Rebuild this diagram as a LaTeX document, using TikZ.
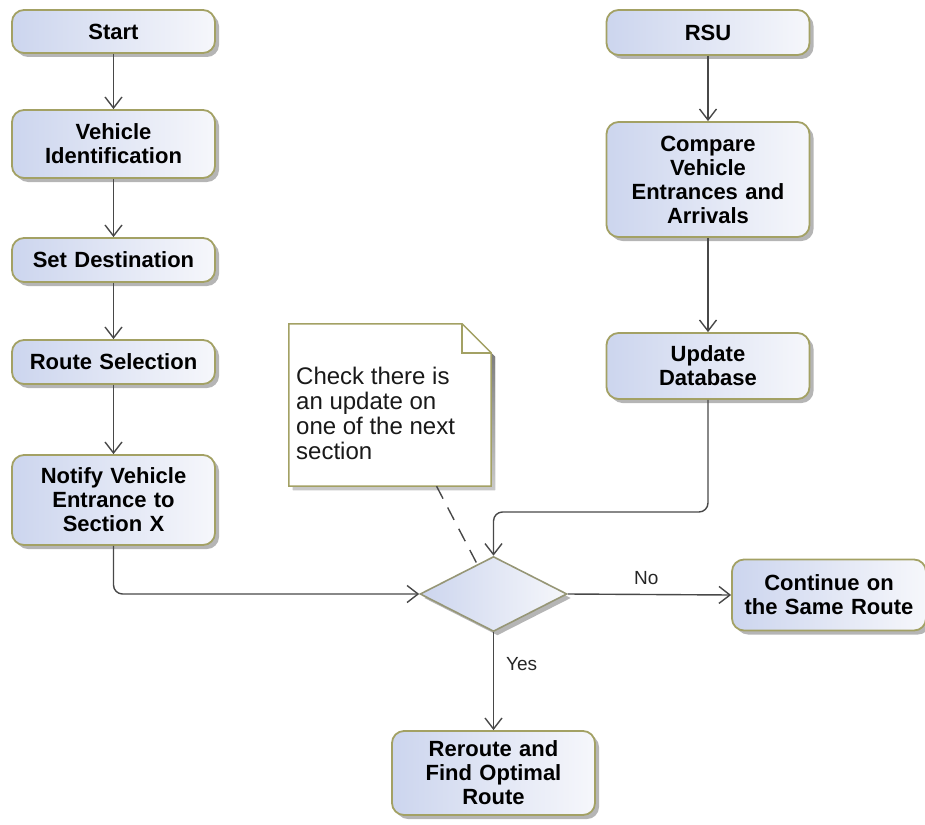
\documentclass[tikz,border=0pt]{standalone}
\usepackage{fontspec}
\setmainfont{Liberation Sans}
\usetikzlibrary{arrows.meta,shapes.geometric,shadows,calc}

\definecolor{boxedge}{RGB}{163,161,100}
\definecolor{boxblue}{RGB}{204,213,238}
\definecolor{boxwhite}{RGB}{246,247,251}
\definecolor{flowline}{RGB}{72,72,72}
\definecolor{decedge}{RGB}{150,150,118}
\definecolor{shade}{RGB}{150,150,150}

\tikzset{
  stepbox/.style={
    rectangle, rounded corners=12pt, draw=boxedge, line width=1.8pt,
    left color=boxblue, right color=boxwhite,
    drop shadow={shadow xshift=4pt, shadow yshift=-4pt, fill=shade, opacity=0.7},
    minimum width=203pt, text width=195pt, align=center, inner sep=0pt,
    font=\fontsize{22}{24}\selectfont\bfseries
  },
  decbox/.style={
    diamond, draw=decedge, line width=1.6pt,
    left color=boxblue, right color=boxwhite,
    drop shadow={shadow xshift=4pt, shadow yshift=-4pt, fill=shade, opacity=0.7},
    minimum width=147pt, minimum height=75pt, inner sep=0pt
  },
  flow/.style={draw=flowline, line width=1.4pt,
    -{Straight Barb[length=11pt,width=17pt,line width=1.4pt]}},
  flowlabel/.style={font=\fontsize{19}{22}\selectfont, text=black!85, inner sep=0pt},
  notetext/.style={font=\fontsize{24}{25}\selectfont, align=left, inner sep=0pt, text=black!90}
}

\begin{document}
\begin{tikzpicture}[x=1pt,y=-1pt]
  \useasboundingbox (0,0) rectangle (925,824);

  % vehicle side
  \node[stepbox, minimum height=43pt] (start) at (113.5,31.5) {Start};
  \node[stepbox, minimum height=68pt] (veh) at (113.5,144) {Vehicle\\Identification};
  \node[stepbox, minimum height=44pt] (dest) at (113.5,260) {Set Destination};
  \node[stepbox, minimum height=44pt] (route) at (113.5,362) {Route Selection};
  \node[stepbox, minimum height=90pt] (notify) at (113.5,500) {Notify Vehicle\\Entrance to\\Section X};

  % roadside unit side
  \node[stepbox, minimum height=45pt] (rsu) at (708,32.5) {RSU};
  \node[stepbox, minimum height=115pt] (cmp) at (708,179.5) {Compare\\Vehicle\\Entrances and\\Arrivals};
  \node[stepbox, minimum height=66pt] (upd) at (708,366) {Update\\Database};

  % decision and outcomes
  \node[decbox] (dec) at (493.5,594) {};
  \node[stepbox, minimum width=194pt, text width=190pt, minimum height=71pt] (cont) at (829,595) {Continue on\\the Same Route};
  \node[stepbox, minimum height=84pt] (rer) at (493.5,773) {Reroute and\\Find Optimal\\Route};

  % comment note with folded corner
  \node[minimum width=202pt, minimum height=162pt, inner sep=0pt] (note) at (390,405) {};
  \fill[shade, opacity=0.7]
    ($(note.south west)+(4,4)$) -- ($(note.north west)+(4,4)$) -- ($(note.north east)+(-25,4)$)
    -- ($(note.north east)+(4,33)$) -- ($(note.south east)+(4,4)$) -- cycle;
  \filldraw[fill=white, draw=boxedge, line width=1.5pt, line join=miter]
    (note.south west) -- (note.north west) -- ($(note.north east)+(-29,0)$)
    -- ($(note.north east)+(0,29)$) -- (note.south east) -- cycle;
  \draw[draw=boxedge, line width=1.5pt] ($(note.north east)+(-29,0)$) |- ($(note.north east)+(0,29)$);
  \node[notetext, anchor=north west] (notetxt) at (296,367)
    {Check there is\\an update on\\one of the next\\section};

  % connectors
  \draw[flow] (start) -- (veh);
  \draw[flow] (veh) -- (dest);
  \draw[flow] (dest) -- (route);
  \draw[flow] (route) -- (notify);
  \draw[flow] (rsu) -- (cmp);
  \draw[flow] (cmp) -- (upd);
  \draw[flow, rounded corners=9pt] (notify.south) |- (dec.west);
  \coordinate (join) at (493.5,512);
  \draw[flow, rounded corners=9pt] (upd.south) |- (join) -- (dec.north);
  \draw[flow] (dec.east) -- node[flowlabel, above=9pt, pos=0.48] {No} (cont.west);
  \draw[flow] (dec.south) -- node[flowlabel, right=12pt, pos=0.32] {Yes} (rer.north);

  % note anchor line
  \coordinate (noteend) at ($(dec.west)!0.78!(dec.north)$);
  \draw[flowline, line width=1.4pt, dash pattern=on 14pt off 10pt]
    ($(note.south west)!0.73!(note.south east)$) -- (noteend);
\end{tikzpicture}
\end{document}
